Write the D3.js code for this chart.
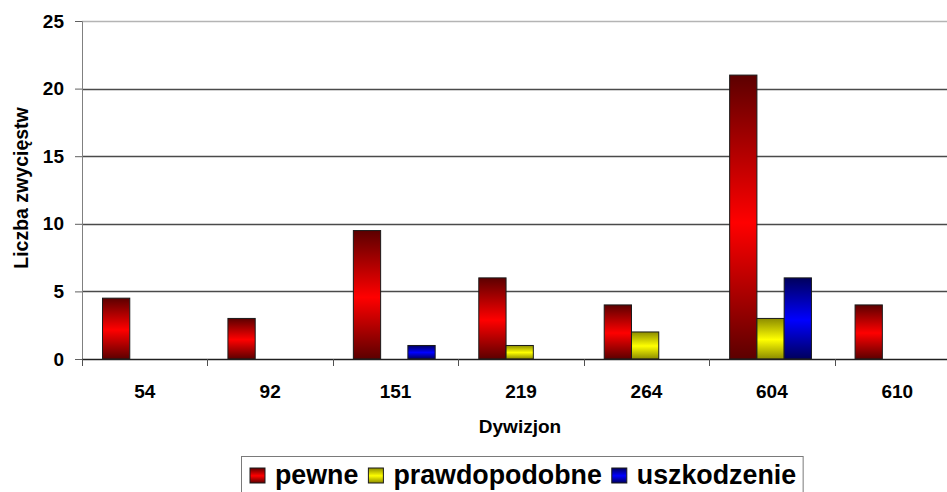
<!DOCTYPE html>
<html>
<head>
<meta charset="utf-8">
<script src="https://cdn.jsdelivr.net/npm/d3@7"></script>
<style>
  html, body { margin: 0; padding: 0; background: #fff; }
  svg { display: block; }
  text { font-family: "Liberation Sans", Arial, sans-serif; font-weight: bold; fill: #000; }
</style>
</head>
<body>
<svg id="chart" width="947" height="492"></svg>
<script>
// Squadrons and confirmed / probable / damaged victories
const categories = ["54", "92", "151", "219", "264", "604", "610"];
const pewne = [4.5, 3, 9.5, 6, 4, 21, 4];
const prawdopodobne = [0, 0, 0, 1, 2, 3, 0];
const uszkodzenie = [0, 0, 1, 0, 0, 6, 0];
const seriesNames = ["pewne", "prawdopodobne", "uszkodzenie"];
const yTicks = [0, 5, 10, 15, 20, 25];

const series = [
  { name: seriesNames[0], values: pewne, grad: "gRed" },
  { name: seriesNames[1], values: prawdopodobne, grad: "gYellow" },
  { name: seriesNames[2], values: uszkodzenie, grad: "gBlue" }
];

const svg = d3.select("#chart");
const plot = { left: 82, right: 960, top: 21, bottom: 359 };

// Vertical dark-bright-dark fills for the bars
const defs = svg.append("defs");
[["gRed", "#5c0000", "#ff0000"], ["gYellow", "#8c8c00", "#ffff00"], ["gBlue", "#00005c", "#0000ff"]]
  .forEach(([id, edge, mid]) => {
    const g = defs.append("linearGradient").attr("id", id)
      .attr("x1", 0).attr("y1", 0).attr("x2", 0).attr("y2", 1);
    g.append("stop").attr("offset", "0%").attr("stop-color", edge);
    g.append("stop").attr("offset", "52%").attr("stop-color", mid);
    g.append("stop").attr("offset", "100%").attr("stop-color", edge);
  });

const x = d3.scaleBand().domain(categories).range([plot.left, plot.right]).paddingInner(0).paddingOuter(0);
const xInner = d3.scaleBand().domain(seriesNames).range([0, x.bandwidth()])
  .paddingInner(0).paddingOuter(0.8).align(0.47);
const y = d3.scaleLinear().domain([0, 25]).range([plot.bottom, plot.top]);

// Horizontal gridlines
svg.append("g").selectAll("line").data(yTicks.filter(v => v > 0)).join("line")
  .attr("x1", plot.left).attr("x2", plot.right)
  .attr("y1", d => Math.round(y(d)) + 0.5).attr("y2", d => Math.round(y(d)) + 0.5)
  .attr("stroke", d => d === 25 ? "#b4b4b4" : "#4a4a4a")
  .attr("stroke-width", d => d === 25 ? 1.6 : 1.3);

// Bars
const groups = svg.append("g").selectAll("g").data(series).join("g");
groups.selectAll("rect")
  .data(s => categories.map((c, i) => ({ c, v: s.values[i], s })).filter(d => d.v > 0))
  .join("rect")
  .attr("x", d => x(d.c) + xInner(d.s.name))
  .attr("width", xInner.bandwidth())
  .attr("y", d => y(d.v))
  .attr("height", d => y(0) - y(d.v))
  .attr("fill", d => `url(#${d.s.grad})`)
  .attr("stroke", "#1a1a1a")
  .attr("stroke-width", 1);

// Y axis
const yAxis = svg.append("g").attr("transform", `translate(${plot.left},0)`)
  .call(d3.axisLeft(y).tickValues(yTicks).tickSize(7).tickPadding(11).tickFormat(d3.format("d")));
yAxis.select(".domain").attr("stroke", "#808080");
yAxis.selectAll(".tick line").attr("stroke", "#606060");
yAxis.selectAll("text").style("font-size", "19px").attr("fill", "#1a1a1a");

// X axis: ticks on category boundaries, labels centred in each band
const xAxisG = svg.append("g").attr("transform", `translate(0,${plot.bottom})`);
xAxisG.append("line").attr("x1", plot.left).attr("x2", plot.right)
  .attr("y1", 0.5).attr("y2", 0.5).attr("stroke", "#202020").attr("stroke-width", 1.3);
xAxisG.call(d3.axisBottom(x).tickSize(0).tickPadding(26))
  .select(".domain").remove();
xAxisG.selectAll("text").style("font-size", "19px").attr("fill", "#1a1a1a");
xAxisG.selectAll("line.bound").data(categories).join("line").attr("class", "bound")
  .attr("x1", d => Math.round(x(d)) + 0.5).attr("x2", d => Math.round(x(d)) + 0.5)
  .attr("y1", 0).attr("y2", 7).attr("stroke", "#505050");

// Axis titles
svg.append("text").attr("x", (plot.left + plot.right) / 2 - 1).attr("y", 433)
  .attr("text-anchor", "middle").style("font-size", "19px").attr("fill", "#1a1a1a").text("Dywizjon");
svg.append("text").attr("transform", "translate(28,188) rotate(-90)")
  .attr("text-anchor", "middle").style("font-size", "19.5px").attr("fill", "#1a1a1a").text("Liczba zwycięstw");

// Legend
const legend = svg.append("g");
const box = legend.append("rect").attr("x", 241.5).attr("y", 456.5).attr("height", 50)
  .attr("fill", "#fff").attr("stroke", "#7a7a7a").attr("stroke-width", 1);
let lx = 250;
series.forEach(s => {
  legend.append("rect").attr("x", lx).attr("y", 468).attr("width", 15).attr("height", 15)
    .attr("fill", `url(#${s.grad})`).attr("stroke", "#1a1a1a").attr("stroke-width", 1);
  const t = legend.append("text").attr("x", lx + 25).attr("y", 484)
    .style("font-size", "26.8px").text(s.name);
  lx += 25 + t.node().getComputedTextLength() + 10;
});
box.attr("width", lx - 241.5 - 3);
</script>
</body>
</html>
